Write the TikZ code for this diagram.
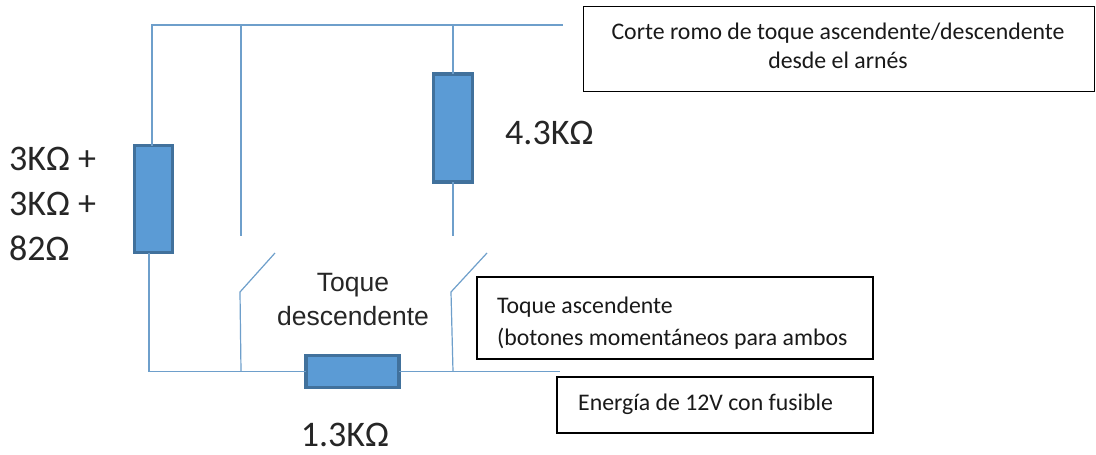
\documentclass[tikz,border=0pt]{standalone}
\usepackage{fontspec}
\setmainfont{Carlito}
\newfontfamily\arialfont{Liberation Sans}
\begin{document}
\begin{tikzpicture}[x=1pt,y=-1pt,
  wire/.style={draw=wireblue,line width=1.5pt},
  res/.style={draw=resedge,fill=resfill,line width=3.6pt,inner sep=0pt,outer sep=0pt},
  note/.style={draw=black,line width=1.8pt,fill=white,inner sep=0pt,outer sep=0pt},
  val/.style={font=\fontsize{36}{45}\selectfont,text=black!85,inner sep=0pt},
  boxtext/.style={inner sep=0pt,text=black!90}]
\definecolor{wireblue}{HTML}{6E9FCB}
\definecolor{resedge}{HTML}{41719C}
\definecolor{resfill}{HTML}{5B9BD5}
\useasboundingbox (0,0) rectangle (1096,455);
\fill[white] (0,0) rectangle (1096,455);
% junctions and free ends
\coordinate (tl) at (152,25);
\coordinate (tA) at (241,25);
\coordinate (tB) at (453,25);
\coordinate (tr) at (563,25);
\coordinate (bl) at (149,371.5);
\coordinate (bA) at (241,371.5);
\coordinate (bB) at (453,371.5);
\coordinate (br) at (560,371.5);
\coordinate (aEnd) at (241,236);
\coordinate (bEnd) at (453,236);
\coordinate (swAh) at (240,292);
\coordinate (swAt) at (275,253);
\coordinate (swBh) at (451,292);
\coordinate (swBt) at (487,253);
% resistors
\node[res,minimum width=38pt,minimum height=107pt] (r1) at (153.5,199) {};
\node[res,minimum width=39pt,minimum height=108pt] (r2) at (453,128) {};
\node[res,minimum width=93pt,minimum height=32pt] (r3) at (352.5,371.5) {};
% wires
\draw[wire] (tl |- r1.north) -- (tl) -- (tA) -- (tB) -- (tr);
\draw[wire] (tA) -- (aEnd);
\draw[wire] (tB) -- (r2.north);
\draw[wire] (r2.south) -- (bEnd);
\draw[wire] (r1.south -| bl) -- (bl) -- (bA) -- (r3.west);
\draw[wire] (r3.east) -- (bB) -- (br);
\draw[wire,line width=1.2pt] (bA) -- (swAh) -- (swAt);
\draw[wire,line width=1.2pt] (bB) -- (swBh) -- (swBt);
% notes
\node[note,minimum width=511pt,minimum height=85pt] (n1) at (839,49) {};
\node[boxtext,align=center,font=\fontsize{23.8}{28.5}\selectfont] (t1) at (838,46) {Corte romo de toque ascendente/descendente\\desde el arnés};
\node[note,minimum width=396pt,minimum height=82pt] (n2) at (675,318) {};
\node[boxtext,align=left,anchor=west,font=\fontsize{23.8}{32}\selectfont] (t2) at (497,323) {Toque ascendente\\(botones momentáneos para ambos};
\node[note,minimum width=316pt,minimum height=56pt] (n3) at (715,405) {};
\node[boxtext,anchor=west,font=\fontsize{23.8}{28}\selectfont] (t3) at (578,404) {Energía de 12V con fusible};
% labels
\node[val,align=left,anchor=west] (v1) at (9,204) {3KΩ +\\3KΩ +\\82Ω};
\node[val,anchor=west] (v2) at (505,133) {4.3KΩ};
\node[val,anchor=center] (v3) at (345,435) {1.3KΩ};
\node[align=center,font=\arialfont\fontsize{26.5}{34}\selectfont,text=black!85,inner sep=0pt] (v4) at (353,300) {Toque\\descendente};
\end{tikzpicture}
\end{document}
